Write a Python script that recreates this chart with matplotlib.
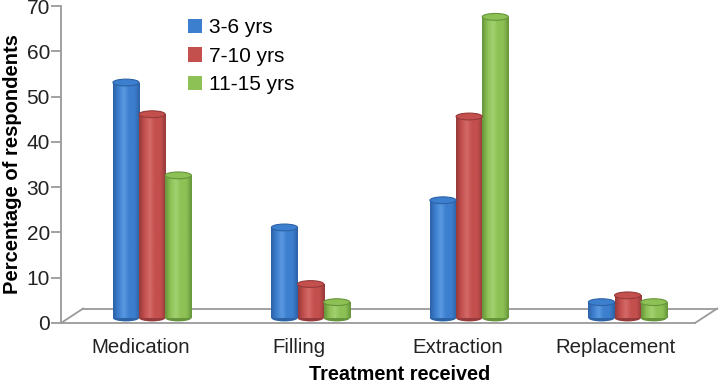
import numpy as np
import matplotlib.pyplot as plt
from matplotlib.patches import Ellipse
from matplotlib.colors import LinearSegmentedColormap

# === DATOS ===
categories = ["Medication", "Filling", "Extraction", "Replacement"]
series_names = ["3-6 yrs", "7-10 yrs", "11-15 yrs"]
vals_3_6 = [52, 20, 26, 3.5]
vals_7_10 = [45, 7.5, 44.5, 5]
vals_11_15 = [31.5, 3.5, 66.5, 3.5]
y_ticks = [0, 10, 20, 30, 40, 50, 60, 70]

# colores (oscuro, base, claro)
colors = [("#2c62a6", "#3d7fcf", "#5a98e0"),
          ("#96393a", "#c4504e", "#d46a68"),
          ("#66943a", "#8dc155", "#a2d170")]

plt.rcParams["font.family"] = ["Liberation Sans", "DejaVu Sans"]

fig = plt.figure(figsize=(7.19, 3.83), dpi=100)
ax = fig.add_axes([61 / 719, (383 - 323) / 383, (695 - 61) / 719, (323 - 6) / 383])
ax.set_xlim(-0.5, 3.5)
ax.set_ylim(0, 70)

# === PISO 3D ===
ddx, ddy = 0.14, 3.2
floor_kw = dict(color="#9a9a9a", lw=1.3, clip_on=False, zorder=1)
ax.plot([-0.5, 3.5], [0, 0], **floor_kw)
ax.plot([3.5, 3.5 + ddx], [0, ddy], **floor_kw)
ax.plot([-0.5 + ddx, 3.5 + ddx], [ddy, ddy], **floor_kw)
ax.plot([-0.5, -0.5 + ddx], [0, ddy], **floor_kw)

# === BARRAS CILINDRICAS ===
w = 0.165
ox, oy = 0.075, 1.1
cap_h = 1.5
x = np.arange(len(categories))
grad = np.linspace(0, 1, 64).reshape(1, -1)
for i, (vals, name) in enumerate(zip([vals_3_6, vals_7_10, vals_11_15], series_names)):
    dark, base, light = colors[i]
    cmap = LinearSegmentedColormap.from_list(name, [dark, base, light, base, base, dark])
    xs = x + (i - 1) * w + ox
    bars = ax.bar(xs, vals, width=w, bottom=oy, color=base, zorder=3, linewidth=0, label=name)
    for xi, v, b in zip(xs, vals, bars):
        # fondo redondeado
        ax.add_patch(Ellipse((xi, oy), w, cap_h, facecolor=dark, lw=0, zorder=2.9))
        im = ax.imshow(grad, extent=[xi - w / 2, xi + w / 2, oy, oy + v], cmap=cmap,
                       aspect="auto", zorder=3.1, interpolation="bicubic")
        im.set_clip_path(b)
        # tapa superior
        ax.add_patch(Ellipse((xi, oy + v), w, cap_h, facecolor=base, edgecolor=dark,
                             lw=0.8, zorder=3.2))
ax.set_xlim(-0.5, 3.5)
ax.set_ylim(0, 70)

# === EJES ===
for s in ["top", "right", "bottom"]:
    ax.spines[s].set_visible(False)
ax.spines["left"].set_color("#9a9a9a")
ax.spines["left"].set_linewidth(1.3)
ax.set_yticks(y_ticks)
ax.tick_params(axis="y", length=7, width=1.3, color="#9a9a9a", labelsize=15,
               labelcolor="#222222", pad=1)
ax.set_xticks(x)
ax.set_xticklabels(categories)
ax.tick_params(axis="x", length=0, labelsize=14.7, labelcolor="#222222", pad=11)
ax.set_ylabel("Percentage of respondents", fontsize=14.5, fontweight="bold", labelpad=3)
ax.set_xlabel("Treatment received", fontsize=14.3, fontweight="bold")
ax.xaxis.set_label_coords((400 - 61) / (695 - 61), -42 / 317)

ax.legend(loc="upper left", bbox_to_anchor=(0.17, 1.02), frameon=False, fontsize=15,
          handlelength=0.7, handleheight=0.7, handletextpad=0.35, labelspacing=0.45)

fig.savefig("out.png", dpi=100)
